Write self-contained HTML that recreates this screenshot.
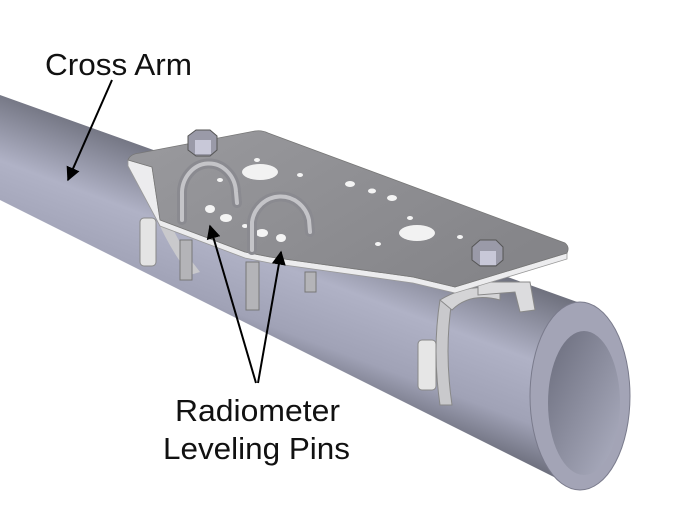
<!DOCTYPE html>
<html><head><meta charset="utf-8"><style>
html,body{margin:0;padding:0;background:#fff;}
svg{display:block;}
text{font-family:"Liberation Sans",sans-serif;font-size:31px;fill:#111;}
</style></head><body>
<svg width="692" height="517" viewBox="0 0 692 517" xmlns="http://www.w3.org/2000/svg">
<defs>
<linearGradient id="pipe" gradientUnits="userSpaceOnUse" x1="300" y1="200" x2="240" y2="360">
<stop offset="0" stop-color="#70727f"/>
<stop offset="0.4" stop-color="#b0b2c6"/>
<stop offset="0.75" stop-color="#a0a2b6"/>
<stop offset="1" stop-color="#6c6e7c"/>
</linearGradient>
<linearGradient id="inner" x1="0" y1="0" x2="1" y2="1">
<stop offset="0" stop-color="#6a6c7c"/>
<stop offset="1" stop-color="#aeb0c2"/>
</linearGradient>
<linearGradient id="plate" x1="0" y1="0" x2="1" y2="0.6">
<stop offset="0" stop-color="#9a9a9e"/>
<stop offset="1" stop-color="#858589"/>
</linearGradient>
<marker id="ah" viewBox="0 0 10 10" refX="9" refY="5" markerWidth="7" markerHeight="7" orient="auto">
<path d="M0,0 L10,5 L0,10 z" fill="#000"/>
</marker>
</defs>

<!-- pipe -->
<path d="M0,95 L580,303 A48,93 0 0 1 580,490 L0,200 Z" fill="url(#pipe)"/>
<ellipse cx="580" cy="396" rx="50" ry="94" fill="#a3a4b6" stroke="#7a7b8c" stroke-width="1"/>
<ellipse cx="584" cy="403" rx="36" ry="72" fill="url(#inner)"/>

<!-- left clamp -->
<path d="M155,215 Q170,250 190,275 L200,272 Q178,245 166,212 Z" fill="#c9c9cc"/>
<rect x="140" y="218" width="16" height="48" rx="4" fill="#e4e4e4" stroke="#888"/>
<!-- right clamp -->
<path d="M440,300 Q432,350 440,405 L452,405 Q444,350 452,300 Z" fill="#c9c9cc" stroke="#888"/>
<path d="M440,300 Q470,282 500,290 L500,300 Q470,292 452,310 Z" fill="#d4d4d6" stroke="#888"/>
<rect x="418" y="340" width="18" height="50" rx="4" fill="#e6e6e6" stroke="#888"/>
<path d="M478,282 L530,282 L535,310 L520,312 L515,292 L478,295 Z" fill="#dcdcde" stroke="#888"/>

<!-- threaded studs -->
<rect x="180" y="240" width="12" height="40" fill="#b4b4b8" stroke="#777"/>
<rect x="246" y="262" width="13" height="48" fill="#b4b4b8" stroke="#777"/>
<rect x="305" y="272" width="11" height="20" fill="#b4b4b8" stroke="#777"/>

<!-- plate edge (thickness) -->
<path d="M128,160 L128,166 L160,226 L245,258 L270,263 L413,283 L455,293 L567,259 L567,253 L455,287 L413,277 L270,257 L245,252 L160,220 L152,167 Z" fill="#ececee" stroke="#999" stroke-width="0.8"/>
<!-- plate top -->
<path d="M128,160 Q130,154 140,153 L255,131 Q262,130 268,133 L565,243 Q570,247 567,253 L455,287 L413,277 L270,257 L245,252 L160,220 L152,167 Z" fill="url(#plate)" stroke="#777" stroke-width="0.8"/>

<!-- holes -->
<ellipse cx="260" cy="172" rx="18" ry="8" fill="#f2f2f2"/>
<ellipse cx="417" cy="233" rx="18" ry="8" fill="#f2f2f2"/>
<g fill="#f4f4f4">
<ellipse cx="257" cy="160" rx="3" ry="2"/><ellipse cx="300" cy="175" rx="3" ry="2"/>
<ellipse cx="350" cy="184" rx="5" ry="3"/><ellipse cx="372" cy="191" rx="4" ry="2.5"/><ellipse cx="392" cy="198" rx="5" ry="3"/>
<ellipse cx="410" cy="218" rx="3" ry="2"/><ellipse cx="460" cy="237" rx="3" ry="2"/><ellipse cx="378" cy="244" rx="3" ry="2"/>
<ellipse cx="210" cy="209" rx="5" ry="4"/><ellipse cx="226" cy="218" rx="6" ry="4"/><ellipse cx="245" cy="226" rx="3" ry="2"/>
<ellipse cx="262" cy="233" rx="6" ry="4"/><ellipse cx="281" cy="238" rx="5" ry="4"/><ellipse cx="220" cy="180" rx="3" ry="2"/>
</g>

<!-- U-bolts -->
<path d="M182,220 L182,195 A27,30 0 0 1 236,192 L237,203" fill="none" stroke="#8a8a90" stroke-width="10" stroke-linecap="round"/>
<path d="M182,220 L182,195 A27,30 0 0 1 236,192 L237,203" fill="none" stroke="#c4c4c8" stroke-width="4" stroke-linecap="round"/>
<path d="M252,250 L252,222 A29,30 0 0 1 309,220 L310,232" fill="none" stroke="#8a8a90" stroke-width="10" stroke-linecap="round"/>
<path d="M252,250 L252,222 A29,30 0 0 1 309,220 L310,232" fill="none" stroke="#c4c4c8" stroke-width="4" stroke-linecap="round"/>

<!-- bolts -->
<path d="M188,136 L196,130 L210,130 L217,136 L217,150 L210,156 L196,156 L188,150 Z" fill="#9a9aa8" stroke="#555"/>
<rect x="195" y="140" width="16" height="14" fill="#c8c8d8"/>
<path d="M472,247 L480,240 L496,240 L503,247 L503,260 L496,266 L480,266 L472,260 Z" fill="#9a9aa8" stroke="#555"/>
<rect x="480" y="251" width="16" height="14" fill="#c8c8d8"/>

<!-- labels & arrows -->
<text x="45" y="75" textLength="147" lengthAdjust="spacingAndGlyphs">Cross Arm</text>
<line x1="112" y1="80" x2="68" y2="180" stroke="#000" stroke-width="2" marker-end="url(#ah)"/>
<line x1="256" y1="383" x2="210" y2="226" stroke="#000" stroke-width="2" marker-end="url(#ah)"/>
<line x1="258" y1="383" x2="281" y2="252" stroke="#000" stroke-width="2" marker-end="url(#ah)"/>
<text x="175" y="421" textLength="165" lengthAdjust="spacingAndGlyphs">Radiometer</text>
<text x="163" y="459" textLength="187" lengthAdjust="spacingAndGlyphs">Leveling Pins</text>
</svg>
</body></html>
